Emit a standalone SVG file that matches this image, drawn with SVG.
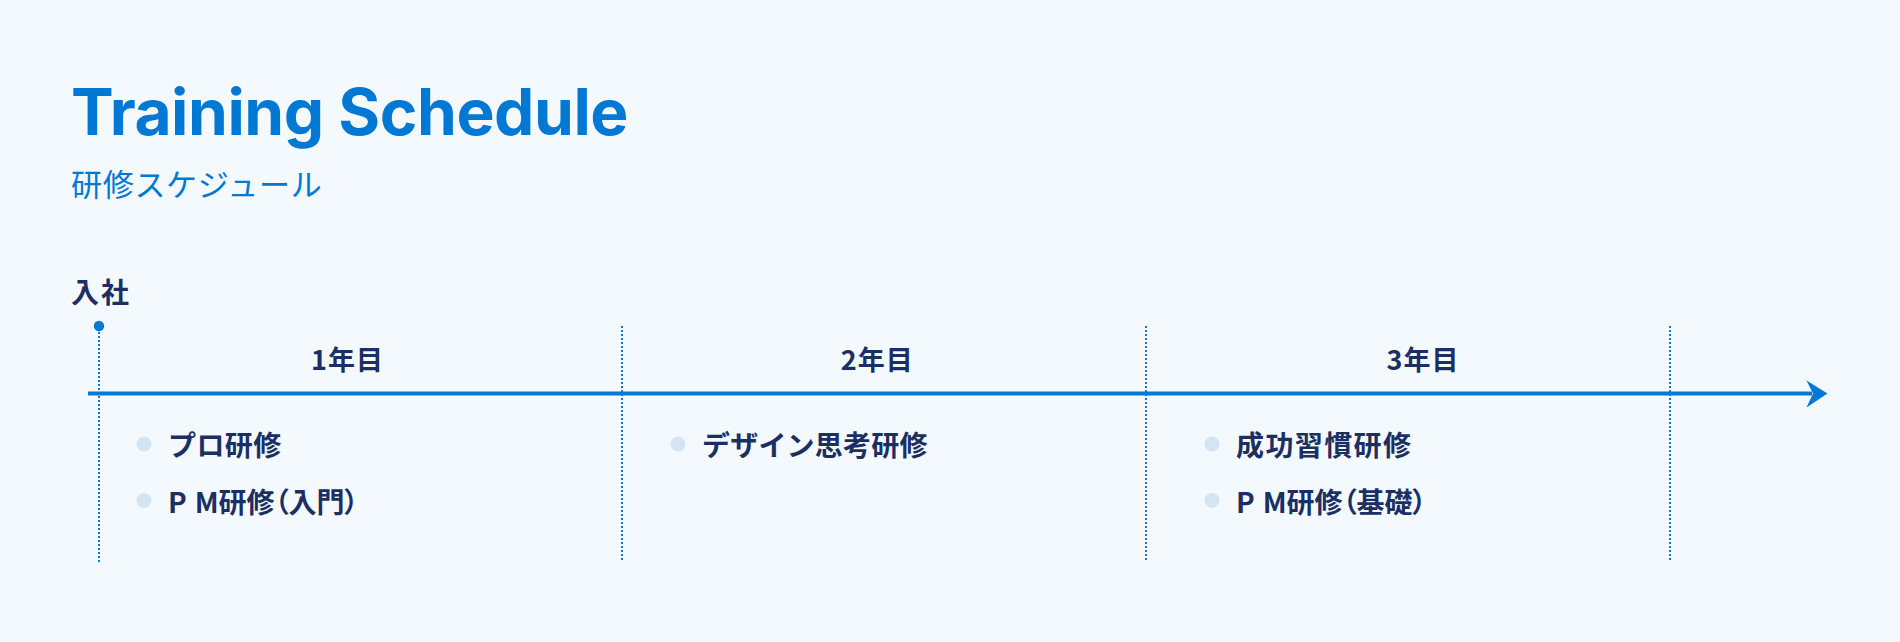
<svg xmlns="http://www.w3.org/2000/svg" width="1900" height="642" viewBox="0 0 1900 642">
  <defs>
    <style>
      .title { font-family: Inter, "Noto Sans", "Liberation Sans", sans-serif; font-weight: 700; font-size: 64px; letter-spacing: -0.45px; fill: #0078d4; }
      .subtitle { font-family: "Noto Sans CJK JP", "Noto Sans", sans-serif; font-weight: 400; font-size: 31px; letter-spacing: 0.7px; fill: #0078d4; }
      .navy { font-family: "Noto Sans CJK JP", "Noto Sans", sans-serif; font-weight: 700; fill: #1c2f63; }
      .year { font-size: 27px; text-anchor: middle; letter-spacing: 1px; }
      .item { font-size: 28px; }
      .palt { font-feature-settings: "palt"; }
      .bullet { fill: #d3e5f5; }
      .divider { stroke: #0a7bd6; stroke-width: 2; stroke-dasharray: 2 2; fill: none; }
      .axis { stroke: #0078d4; stroke-width: 4; fill: none; }
    </style>
  </defs>
  <rect x="0" y="0" width="1900" height="642" fill="#f4f9fe"/>

  <g id="header">
    <text class="title" x="71" y="135">Training Schedule</text>
    <text class="subtitle" x="71" y="196">研修スケジュール</text>
  </g>

  <g id="connectors">
    <line class="divider" x1="99" y1="328" x2="99" y2="562"/>
    <line class="divider" x1="622" y1="326" x2="622" y2="562"/>
    <line class="divider" x1="1146" y1="326" x2="1146" y2="562"/>
    <line class="divider" x1="1670" y1="326" x2="1670" y2="562"/>
    <line class="axis" x1="88" y1="393.5" x2="1812" y2="393.5"/>
    <path d="M1806.5,380.5 L1827.5,393.5 L1806.5,407.5 L1813,393.5 Z" fill="#0078d4"/>
  </g>

  <g id="start">
    <text class="navy" x="71" y="302.5" font-size="28" letter-spacing="2">入社</text>
    <circle cx="99" cy="326" r="5.2" fill="#0078d4"/>
  </g>

  <g id="year1">
    <text class="navy year" x="347.5" y="370">1年目</text>
    <circle class="bullet" cx="144" cy="444" r="7.5"/>
    <text class="navy item" x="168" y="455.5" letter-spacing="0.4">プロ研修</text>
    <circle class="bullet" cx="144" cy="500.5" r="7.5"/>
    <text class="navy item palt" x="168" y="512.5"><tspan letter-spacing="8">P</tspan>M研修（入門）</text>
  </g>

  <g id="year2">
    <text class="navy year" x="877.3" y="370">2年目</text>
    <circle class="bullet" cx="678" cy="444" r="7.5"/>
    <text class="navy item" x="702" y="455.5" letter-spacing="0.2">デザイン思考研修</text>
  </g>

  <g id="year3">
    <text class="navy year" x="1423" y="370">3年目</text>
    <circle class="bullet" cx="1212" cy="444" r="7.5"/>
    <text class="navy item" x="1236" y="455.5" letter-spacing="1.4">成功習慣研修</text>
    <circle class="bullet" cx="1212" cy="500.5" r="7.5"/>
    <text class="navy item palt" x="1236" y="512.5"><tspan letter-spacing="8">P</tspan>M研修（基礎）</text>
  </g>
</svg>
